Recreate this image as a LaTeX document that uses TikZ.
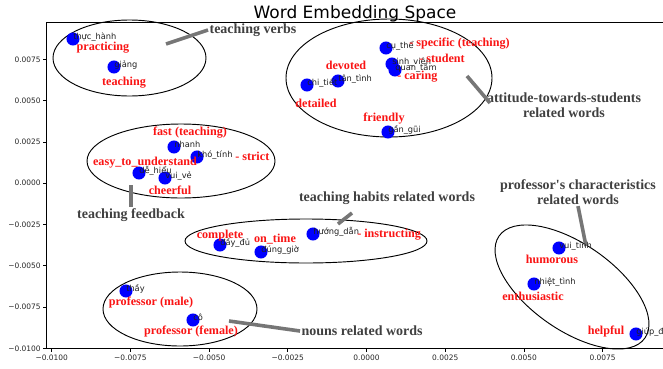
\documentclass[tikz,border=0pt]{standalone}
\usepackage{fontspec}
\setmainfont{Liberation Serif}
\newfontfamily\dejavu{DejaVu Sans}
\definecolor{annotgray}{RGB}{64,64,64}
\definecolor{linegray}{RGB}{118,118,118}
\definecolor{dotblue}{RGB}{0,0,255}
\definecolor{redlab}{RGB}{250,20,20}
\tikzset{
  wdot/.style={circle, fill=dotblue, draw=none, minimum size=9.8pt, inner sep=0pt},
  wlabel/.style={font=\dejavu\fontsize{6.2}{7}\selectfont, text=black!88, anchor=base west, inner sep=0pt},
  rlabel/.style={font=\bfseries\fontsize{9.1}{10}\selectfont, text=redlab, inner sep=0pt},
  glabel/.style={font=\bfseries\fontsize{10.5}{11.3}\selectfont, text=annotgray, align=center, inner sep=1pt},
  gline/.style={draw=linegray, line width=2.7pt},
  ell/.style={draw=black, line width=0.7pt},
  spine/.style={draw=black, line width=0.6pt},
  tickmark/.style={draw=black, line width=0.6pt},
  ticklab/.style={font=\dejavu\fontsize{5.6}{6}\selectfont, text=black!85, inner sep=0pt},
}
\begin{document}
\begin{tikzpicture}[x=0.75pt, y=-0.75pt]
\useasboundingbox (0,0) rectangle (663,368);
\clip (0,0) rectangle (663,368);
\fill[white] (0,0) rectangle (663,368);

% title
\node[font=\dejavu\fontsize{12.75}{14}\selectfont, anchor=base, inner sep=0pt] (title) at (355,18) {Word Embedding Space};

% axes
\coordinate (axTL) at (46,22);
\coordinate (axBL) at (46,348.4);
\coordinate (axBR) at (670,348.4);
\coordinate (axTR) at (670,22);
\draw[spine] (axTR) -- (axTL) -- (axBL) -- (axBR);

% y ticks
\foreach \yy/\lab [count=\i] in {59.3/0.0075, 100.6/0.0050, 141.9/0.0025, 183.2/0.0000, 224.5/{−0.0025}, 265.8/{−0.0050}, 307.1/{−0.0075}, 348.4/{−0.0100}} {
  \coordinate (yt\i) at (46,\yy);
  \coordinate (ytl\i) at (42.5,\yy);
  \draw[tickmark] (yt\i) -- (ytl\i);
  \node[ticklab, anchor=east] (ylab\i) at (41,\yy) {\lab};
}
% x ticks
\foreach \xx/\lab [count=\i] in {51.7/{−0.0100}, 130.4/{−0.0075}, 209.1/{−0.0050}, 287.8/{−0.0025}, 366.5/0.0000, 445.2/0.0025, 523.9/0.0050, 602.6/0.0075} {
  \coordinate (xt\i) at (\xx,348.4);
  \coordinate (xtl\i) at (\xx,352);
  \draw[tickmark] (xt\i) -- (xtl\i);
  \node[ticklab, anchor=north] (xlab\i) at (\xx,354.5) {\lab};
}

% ellipses
\draw[ell] (129.5,58) ellipse [x radius=76.5, y radius=38];
\draw[ell] (389,78) ellipse [x radius=103, y radius=59];
\draw[ell] (181,161) ellipse [x radius=94, y radius=37];
\draw[ell] (306,241) ellipse [x radius=121, y radius=22];
\draw[ell] (180,309) ellipse [x radius=77, y radius=37];
\draw[ell, rotate around={-35:(572,287)}] (572,287) ellipse [x radius=89, y radius=43];

% annotation lines and grey labels
\node[glabel, anchor=west] (tv) at (208,30) {teaching verbs};
\coordinate (tvs) at (166,44);
\draw[gline] (tvs) -- (tv.west);

\node[glabel] (att) at (564,105) {attitude-towards-students\\related words};
\coordinate (atts) at (467,76);
\coordinate (atte) at (490,103);
\draw[gline] (atts) -- (atte);

\node[glabel] (tf) at (131,215) {teaching feedback};
\coordinate (tfs) at (131,185);
\draw[gline] (tfs) -- (tf.north);

\node[glabel] (th) at (387,198) {teaching habits related words};
\coordinate (ths) at (338,224);
\coordinate (the) at (352,213);
\draw[gline] (ths) -- (the);

\node[glabel, anchor=west] (nr) at (300,331) {nouns related words};
\coordinate (nrs) at (229,321);
\draw[gline] (nrs) -- (nr.west);

\node[glabel] (pc) at (578,192) {professor\textquotesingle s characteristics\\related words};
\coordinate (pcs) at (586,246);
\draw[gline] (pcs) -- (pc.south);

% dots
\foreach \nm/\px/\py in {thuchanh/73/39, giang/114/67, cuthe/386/48, sinhvien/392/64, quantam/395/70, tantinh/338/81, chitiet/307/85, gangui/388/132, nhanh/174/147, khotinh/197/157, dehieu/139/173, vuive/165/178, daydu/220/245, dunggio/261/252, huongdan/313/234, thay/126/291, co/193/320, vuitinh/559/248, nhiettinh/534/284, giupdo/636/334} {
  \node[wdot] (\nm) at (\px,\py) {};
}

% word labels
\node[wlabel] (l1) at (thuchanh.center) {thực\_hành};
\node[wlabel] (l2) at (giang.center) {giảng};
\node[wlabel] (l3) at (cuthe.center) {cụ\_thể};
\node[wlabel] (l4) at (sinhvien.center) {sinh\_viên};
\node[wlabel] (l5) at (quantam.center) {quan\_tâm};
\node[wlabel] (l6) at (tantinh.center) {tận\_tình};
\node[wlabel] (l7) at (chitiet.center) {chi\_tiết};
\node[wlabel] (l8) at (gangui.center) {gần\_gũi};
\node[wlabel] (l9) at (nhanh.center) {nhanh};
\node[wlabel] (l10) at (khotinh.center) {khó\_tính};
\node[wlabel] (l11) at (dehieu.center) {dễ\_hiểu};
\node[wlabel] (l12) at (vuive.center) {vui\_vẻ};
\node[wlabel] (l13) at (daydu.center) {đầy\_đủ};
\node[wlabel] (l14) at (dunggio.center) {đúng\_giờ};
\node[wlabel] (l15) at (huongdan.center) {hướng\_dẫn};
\node[wlabel] (l16) at (thay.center) {thầy};
\node[wlabel] (l17) at (co.center) {cô};
\node[wlabel] (l18) at (vuitinh.center) {vui\_tính};
\node[wlabel] (l19) at (nhiettinh.center) {nhiệt\_tình};
\node[wlabel] (l20) at (giupdo.center) {giúp\_đỡ};

% red labels
\node[rlabel] (r1) at (103,48) {practicing};
\node[rlabel] (r2) at (124,83) {teaching};
\node[rlabel, anchor=west] (r3) at (409,44) {- specific (teaching)};
\node[rlabel, anchor=west] (r4) at (419,58) {- student};
\node[rlabel, anchor=west] (r5) at (397,77) {- caring};
\node[rlabel] (r6) at (346,65) {devoted};
\node[rlabel] (r7) at (316,103) {detailed};
\node[rlabel] (r8) at (384,119) {friendly};
\node[rlabel] (r9) at (190,133) {fast (teaching)};
\node[rlabel, anchor=west] (r10) at (235,156) {- strict};
\node[rlabel] (r11) at (145,163) {easy\_to\_understand};
\node[rlabel] (r12) at (170,190) {cheerful};
\node[rlabel] (r13) at (220,236) {complete};
\node[rlabel] (r14) at (275,239) {on\_time};
\node[rlabel, anchor=west] (r15) at (357,235) {- instructing};
\node[rlabel] (r16) at (151,303) {professor (male)};
\node[rlabel] (r17) at (191,332) {professor (female)};
\node[rlabel] (r18) at (552,259) {humorous};
\node[rlabel] (r19) at (533,296) {enthusiastic};
\node[rlabel] (r20) at (606,332) {helpful};
\end{tikzpicture}
\end{document}
